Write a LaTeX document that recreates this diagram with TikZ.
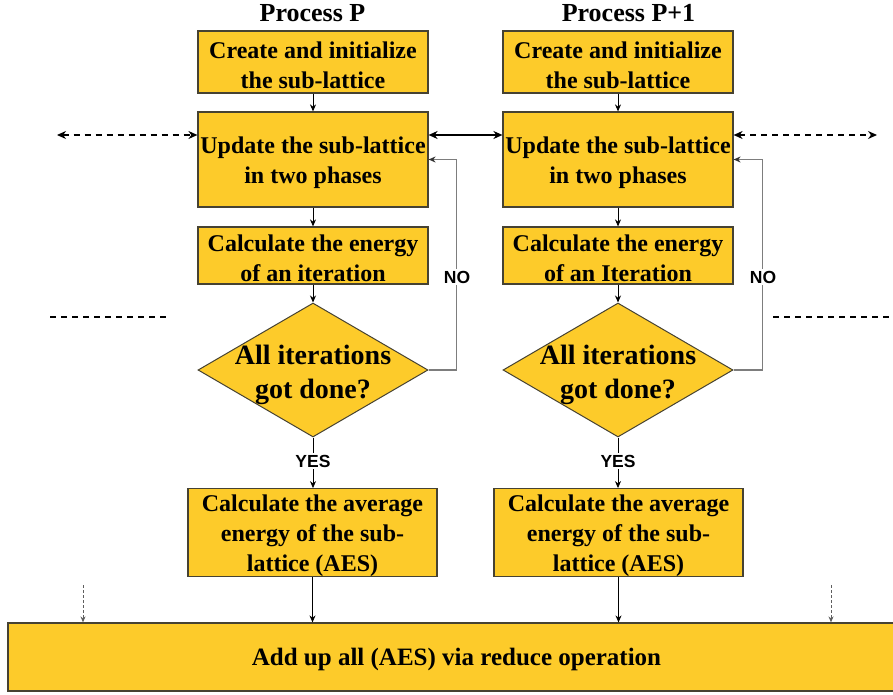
\documentclass[tikz,border=0pt]{standalone}
\usepackage{fontspec}
\setmainfont{Liberation Serif}
\newfontfamily\lblfont{Liberation Sans}
\usetikzlibrary{shapes.geometric,arrows.meta}
\definecolor{boxfill}{RGB}{253,203,42}
\definecolor{boxline}{RGB}{70,66,50}
\definecolor{loopgray}{RGB}{125,125,125}
\definecolor{dotgray}{RGB}{95,95,95}
\newcommand\bxstrut{\rule{0pt}{22.5pt}}
\tikzset{
  procbox/.style={draw=boxline, line width=1.2pt, fill=boxfill, minimum width=230pt,
    inner sep=0pt, align=center, font=\bfseries\fontsize{24}{30}\selectfont},
  decide/.style={diamond, draw=boxline, line width=1pt, fill=boxfill, minimum width=230pt,
    minimum height=134pt, inner sep=0pt},
  decidetext/.style={align=center, inner sep=0pt, font=\bfseries\fontsize{28}{34}\selectfont},
  title/.style={anchor=base, inner sep=0pt, font=\bfseries\fontsize{26}{30}\selectfont},
  lbl/.style={fill=white, inner sep=1.5pt, font=\lblfont\bfseries\fontsize{17.5}{20}\selectfont},
  arr/.style={line width=0.9pt, -{Stealth[length=7pt,width=6pt]}},
  looparr/.style={draw=loopgray, line width=1.4pt, -{Stealth[length=7pt,width=6pt,color=black!80]}},
  dblarr/.style={line width=1.8pt, {Stealth[length=9pt,width=8pt]}-{Stealth[length=9pt,width=8pt]}},
  dasharr/.style={line width=1.4pt, dash pattern=on 6pt off 5pt, {Stealth[length=9pt,width=8pt]}-{Stealth[length=9pt,width=8pt]}},
  dashline/.style={line width=1.4pt, dash pattern=on 6pt off 5pt},
  dotarr/.style={draw=dotgray, line width=1pt, dash pattern=on 3pt off 2pt, -{Stealth[length=6pt,width=5pt]}}
}
\begin{document}
\begin{tikzpicture}[x=1pt,y=-1pt]
\useasboundingbox (0,0) rectangle (893,695);
\fill[white] (0,0) rectangle (893,695);
\clip (0,0) rectangle (893,695);

% titles
\node[title] (t1) at (312.5,22) {Process P};
\node[title] (t2) at (628.5,22) {Process P+1};

% column P
\node[procbox, minimum height=62pt] (c1) at (313,62) {\bxstrut Create and initialize\\the sub-lattice};
\node[procbox, minimum height=95pt] (u1) at (313,159.5) {\bxstrut Update the sub-lattice\\in two phases};
\node[procbox, minimum height=57pt] (e1) at (313,255.5) {\bxstrut Calculate the energy\\of an iteration};
\node[decide] (d1) at (313,370) {};
\node[decidetext] (d1t) at (313,374.5) {All iterations\\got done?};
\node[procbox, minimum width=249pt, minimum height=87pt] (a1) at (312.5,532.5) {\bxstrut Calculate the average\\energy of the sub-\\lattice (AES)};

% column P+1
\node[procbox, minimum height=62pt] (c2) at (618,62) {\bxstrut Create and initialize\\the sub-lattice};
\node[procbox, minimum height=95pt] (u2) at (618,159.5) {\bxstrut Update the sub-lattice\\in two phases};
\node[procbox, minimum height=57pt] (e2) at (618,255.5) {\bxstrut Calculate the energy\\of an Iteration};
\node[decide] (d2) at (618,370) {};
\node[decidetext] (d2t) at (618,374.5) {All iterations\\got done?};
\node[procbox, minimum width=249pt, minimum height=87pt] (a2) at (618.5,532.5) {\bxstrut Calculate the average\\energy of the sub-\\lattice (AES)};

% bottom
\node[procbox, minimum width=897pt, minimum height=68pt, font=\bfseries\fontsize{25}{30}\selectfont,
  execute at begin node={\rule{0pt}{23pt}}] (bot) at (456.5,657) {Add up all (AES) via reduce operation};

% vertical flow P
\draw[arr] (c1) -- (u1);
\draw[arr] (u1) -- (e1);
\draw[arr] (e1) -- (d1);
\draw[arr] (d1.south) -- (d1.south |- a1.north);
\draw[arr] (a1.south) -- (a1.south |- bot.north);
\node[lbl] (y1) at (313,461) {YES};

% vertical flow P+1
\draw[arr] (c2) -- (u2);
\draw[arr] (u2) -- (e2);
\draw[arr] (e2) -- (d2);
\draw[arr] (d2.south) -- (d2.south |- a2.north);
\draw[arr] (a2.south) -- (a2.south |- bot.north);
\node[lbl] (y2) at (618,461) {YES};

% NO loops
\draw[looparr] (d1.east) -- ++(28,0) |- (u1.east);
\node[lbl] (n1) at (457,277) {NO};
\draw[looparr] (d2.east) -- ++(29,0) |- (u2.east);
\node[lbl] (n2) at (763,277) {NO};

% exchange arrows
\draw[dblarr] ([yshift=24.5pt]u1.east) -- ([yshift=24.5pt]u2.west);
\coordinate (xl) at (57,135);
\coordinate (xr) at (877,135);
\draw[dasharr] (xl) -- ([yshift=24.5pt]u1.west);
\draw[dasharr] ([yshift=24.5pt]u2.east) -- (xr);

% dashed separators
\coordinate (sl1) at (50,317);
\coordinate (sl2) at (170,317);
\coordinate (sr1) at (773,317);
\coordinate (sr2) at (893,317);
\draw[dashline] (sl1) -- (sl2);
\draw[dashline] (sr1) -- (sr2);

% dotted arrows into bottom box
\coordinate (ql) at (83,585);
\coordinate (qr) at (831,585);
\draw[dotarr] (ql) -- (ql |- bot.north);
\draw[dotarr] (qr) -- (qr |- bot.north);
\end{tikzpicture}
\end{document}
